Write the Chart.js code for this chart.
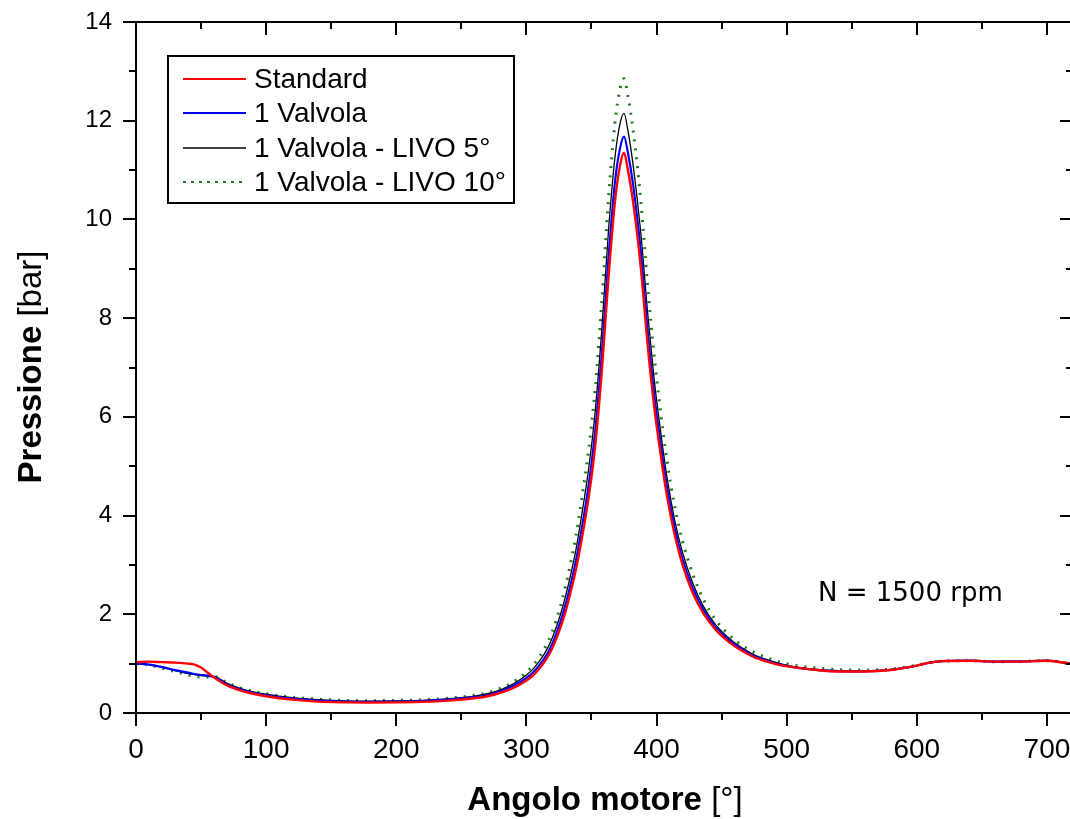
<!DOCTYPE html>
<html><head><meta charset="utf-8">
<script src="https://cdn.jsdelivr.net/npm/chart.js@4.4.1/dist/chart.umd.min.js"></script>
<style>html,body{margin:0;padding:0;overflow:hidden;background:#fff;width:1070px;height:819px}canvas{display:block}</style>
</head><body><canvas id="c" width="1074" height="819"></canvas>
<script>
const angles = [0,10,20,30,40,45,50,55,60,70,80,90,100,120,140,160,180,200,220,240,260,270,280,290,300,305,310,316,320,326,330,334,338,342,348,353,358,363,368,372,375,378,382,388,393,398,402,408,414,420,428,436,445,455,465,475,485,495,505,520,540,560,580,600,610,620,640,660,680,700,720];
const standard = [1.03,1.04,1.03,1.02,1.0,0.98,0.92,0.82,0.72,0.56,0.46,0.39,0.34,0.27,0.23,0.215,0.21,0.215,0.225,0.25,0.30,0.34,0.41,0.51,0.66,0.76,0.9,1.12,1.32,1.72,2.05,2.45,2.9,3.45,4.4,5.45,6.95,8.8,10.35,11.1,11.35,11.0,10.35,9.0,7.5,6.25,5.45,4.4,3.6,3.0,2.42,2.02,1.7,1.45,1.27,1.13,1.04,0.97,0.93,0.88,0.84,0.84,0.87,0.96,1.02,1.05,1.06,1.04,1.04,1.06,0.99];
const valvola1 = [1.0,0.98,0.93,0.87,0.82,0.79,0.77,0.76,0.73,0.58,0.48,0.41,0.36,0.29,0.25,0.23,0.225,0.23,0.24,0.27,0.32,0.36,0.44,0.55,0.71,0.82,0.97,1.2,1.41,1.84,2.19,2.61,3.08,3.66,4.65,5.75,7.3,9.2,10.75,11.45,11.68,11.35,10.7,9.33,7.8,6.5,5.68,4.58,3.75,3.12,2.52,2.09,1.75,1.49,1.3,1.15,1.06,0.98,0.93,0.88,0.85,0.845,0.875,0.96,1.02,1.05,1.06,1.04,1.045,1.06,0.99];
const livo5 = [1.0,0.98,0.93,0.86,0.8,0.78,0.76,0.75,0.74,0.6,0.5,0.43,0.38,0.31,0.27,0.245,0.24,0.245,0.255,0.285,0.34,0.39,0.47,0.59,0.77,0.89,1.05,1.3,1.53,1.98,2.36,2.8,3.3,3.93,4.98,6.15,7.8,9.75,11.25,11.95,12.15,11.8,11.1,9.7,8.15,6.8,5.93,4.78,3.9,3.25,2.62,2.16,1.8,1.53,1.33,1.18,1.08,1.0,0.94,0.89,0.86,0.855,0.88,0.96,1.02,1.05,1.06,1.04,1.045,1.06,0.99];
const livo10 = [1.0,0.97,0.91,0.84,0.77,0.74,0.73,0.73,0.74,0.61,0.51,0.44,0.39,0.32,0.28,0.255,0.25,0.255,0.265,0.30,0.36,0.41,0.5,0.63,0.83,0.96,1.14,1.41,1.66,2.15,2.56,3.04,3.58,4.25,5.38,6.62,8.35,10.4,11.95,12.65,12.85,12.5,11.8,10.35,8.7,7.28,6.35,5.12,4.18,3.48,2.8,2.3,1.9,1.6,1.38,1.23,1.12,1.03,0.97,0.92,0.88,0.87,0.89,0.97,1.02,1.05,1.06,1.04,1.045,1.06,0.99];
const seriesLabels = ['Standard','1 Valvola','1 Valvola - LIVO 5°','1 Valvola - LIVO 10°'];
const xTicks = [0,100,200,300,400,500,600,700];
const yTicks = [0,2,4,6,8,10,12,14];
const xTitle = ['Angolo motore', ' [°]'];
const yTitle = ['Pressione', ' [bar]'];
const noteText = 'N = 1500 rpm';

const pts = ys => angles.map((a,i)=>({x:a,y:ys[i]}));
const styles = [
  {borderColor:'#ff0000', borderWidth:2.4, borderDash:[]},
  {borderColor:'#0000ff', borderWidth:2.2, borderDash:[]},
  {borderColor:'#000000', borderWidth:1.3, borderDash:[]},
  {borderColor:'#1f7a1f', borderWidth:3, borderDash:[2,7]}
];
const allSeries = [standard, valvola1, livo5, livo10];
const datasets = allSeries.map((s,i)=>Object.assign({
  label: seriesLabels[i], data: pts(s), pointRadius:0, fill:false,
  cubicInterpolationMode:'monotone'
}, styles[i]));

const sans = "'Liberation Sans', Arial, sans-serif";
const zeroPad = s => { s.paddingTop = 0; s.paddingBottom = 0; s.paddingLeft = 0; s.paddingRight = 0; };

const deco = {
  id:'deco',
  afterDraw(chart){
    const ctx = chart.ctx, a = chart.chartArea;
    const xs = chart.scales.x, ys = chart.scales.y;
    ctx.save();
    ctx.strokeStyle = '#000'; ctx.lineWidth = 2;
    ctx.strokeRect(a.left, a.top, a.right-a.left, a.bottom-a.top);
    ctx.beginPath();
    for (let v=0; v<=14; v++){
      const y = Math.round(ys.getPixelForValue(v));
      const L = v%2===0 ? 13 : 7;
      ctx.moveTo(a.left-L, y); ctx.lineTo(a.left, y);
      ctx.moveTo(a.right-L, y); ctx.lineTo(a.right, y);
    }
    for (let v=0; v<=720; v+=50){
      const x = Math.round(xs.getPixelForValue(v));
      const L = v%100===0 ? 13 : 7;
      ctx.moveTo(x, a.bottom); ctx.lineTo(x, a.bottom+L);
      ctx.moveTo(x, a.top); ctx.lineTo(x, a.top+L);
    }
    ctx.stroke();

    // legend
    ctx.lineWidth = 2;
    ctx.strokeRect(168, 56, 346, 147);
    const rows = [79,113,148,182];
    chart.data.datasets.forEach((d,i)=>{
      ctx.save();
      ctx.strokeStyle = d.borderColor;
      ctx.lineWidth = i===3 ? 2 : (i===2 ? 1.5 : 2);
      ctx.setLineDash(i===3 ? [3,5] : []);
      ctx.beginPath(); ctx.moveTo(183, rows[i]); ctx.lineTo(246, rows[i]); ctx.stroke();
      ctx.restore();
      ctx.fillStyle = '#000';
      ctx.font = "28px " + sans;
      ctx.textBaseline = 'middle'; ctx.textAlign = 'left';
      ctx.fillText(d.label, 254, rows[i]+1);
    });

    // annotation
    ctx.font = "26px 'DejaVu Sans', Verdana, sans-serif";
    ctx.textBaseline = 'alphabetic'; ctx.textAlign = 'left';
    ctx.fillText(noteText, 818, 601);

    // x title
    const bold = "bold 33px " + sans, norm = "33px " + sans;
    ctx.font = bold; const w1 = ctx.measureText(xTitle[0]).width;
    ctx.font = norm; const w2 = ctx.measureText(xTitle[1]).width;
    const cx = 605;
    const sx = cx - (w1+w2)/2;
    ctx.font = bold; ctx.fillText(xTitle[0], sx, 810);
    ctx.font = norm; ctx.fillText(xTitle[1], sx+w1, 810);

    // y title
    ctx.font = bold; const h1 = ctx.measureText(yTitle[0]).width;
    ctx.font = norm; const h2 = ctx.measureText(yTitle[1]).width;
    ctx.translate(41, 367); ctx.rotate(-Math.PI/2);
    const sy = -(h1+h2)/2;
    ctx.font = bold; ctx.fillText(yTitle[0], sy, 0);
    ctx.font = norm; ctx.fillText(yTitle[1], sy+h1, 0);
    ctx.restore();
  }
};

new Chart(document.getElementById('c'), {
  type:'line',
  data:{datasets},
  options:{
    responsive:false, animation:false,
    layout:{padding:{left:0, top:22, right:1, bottom:0}},
    plugins:{legend:{display:false}, tooltip:{enabled:false}},
    scales:{
      x:{type:'linear', min:0, max:720,
        afterBuildTicks: s => { s.ticks = xTicks.map(v=>({value:v})); },
        afterFit: s => { s.height = 106; zeroPad(s); },
        grid:{display:false, drawTicks:false}, border:{display:false},
        ticks:{padding:20, color:'#000', maxRotation:0, autoSkip:false, font:{family:sans, size:28}}
      },
      y:{type:'linear', min:0, max:14,
        afterBuildTicks: s => { s.ticks = yTicks.map(v=>({value:v})); },
        afterFit: s => { s.width = 136; zeroPad(s); },
        grid:{display:false, drawTicks:false}, border:{display:false},
        ticks:{padding:24, color:'#000', font:{family:sans, size:24}}
      }
    }
  },
  plugins:[deco]
});
</script>
</body></html>
